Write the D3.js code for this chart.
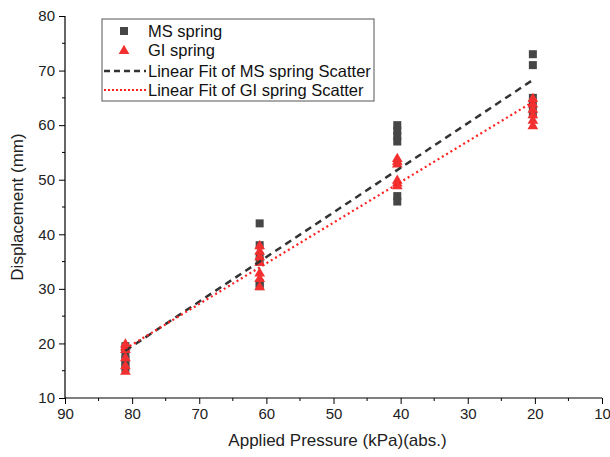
<!DOCTYPE html>
<html><head><meta charset="utf-8">
<script src="https://cdn.jsdelivr.net/npm/d3@7"></script>
<style>body{margin:0;background:#fff}svg{display:block;font-family:"Liberation Sans",Arial,sans-serif}</style>
</head><body><svg id="c" width="610" height="457"></svg>
<script>
// Data
const pressures = [81, 61, 40.5, 20.3];
const msValues = [
  [19.5, 19, 18, 17, 16, 15.5],
  [42, 38, 36, 35, 31, 30.5],
  [60, 59, 58, 57, 47, 46],
  [73, 71, 65, 64, 63, 62]
];
const giValues = [
  [20, 19.5, 19, 17.5, 16, 15],
  [38, 37, 36, 35, 33, 32, 30.5],
  [54, 53.5, 53, 50, 49.5, 49],
  [65, 64, 63, 62, 61, 60]
];
const xTicks = [90, 80, 70, 60, 50, 40, 30, 20, 10];
const yTicks = [10, 20, 30, 40, 50, 60, 70, 80];
const legendLabels = ["MS spring", "GI spring", "Linear Fit of MS spring Scatter", "Linear Fit of GI spring Scatter"];

const msColor = "#464646", giColor = "#f23030", fitMs = "#333333", fitGi = "#ff2020";
const svg = d3.select("#c");
const L = 65, R = 602, T = 16, B = 398;
const x = d3.scaleLinear().domain([90, 10]).range([L, R]);
const y = d3.scaleLinear().domain([10, 80]).range([B, T]);

function flat(vals){ const out=[]; vals.forEach((arr,i)=>arr.forEach(v=>out.push([pressures[i], v]))); return out; }
const ms = flat(msValues), gi = flat(giValues);
function fit(pts){
  const mx=d3.mean(pts,d=>d[0]), my=d3.mean(pts,d=>d[1]);
  let sxy=0,sxx=0; pts.forEach(([a,b])=>{sxy+=(a-mx)*(b-my);sxx+=(a-mx)*(a-mx);});
  const s=sxy/sxx; return xv=>my+s*(xv-mx);
}
const fMs = fit(ms), fGi = fit(gi);
const xr = d3.extent(pressures);

// axes
const xAxis = d3.axisBottom(x).tickValues(xTicks).tickSize(6).tickPadding(4).tickFormat(d3.format("d"));
const gx = svg.append("g").attr("transform",`translate(0,${B})`).call(xAxis);
gx.selectAll(".tick line").attr("stroke","#000");
gx.select(".domain").attr("d",`M${L},0H${R}`).attr("stroke","#000").attr("stroke-width",1.2);
gx.selectAll("text").attr("font-size",15).attr("fill","#222");
svg.append("g").attr("transform",`translate(0,${B})`).selectAll("line").data(d3.range(85,10,-10)).join("line")
  .attr("x1",d=>x(d)).attr("x2",d=>x(d)).attr("y1",0).attr("y2",3).attr("stroke","#000");

const yAxis = d3.axisLeft(y).tickValues(yTicks).tickSize(6).tickPadding(4);
const gy = svg.append("g").attr("transform",`translate(${L},0)`).call(yAxis);
gy.select(".domain").attr("d",`M0,${B}V${T}`).attr("stroke","#000").attr("stroke-width",1.2);
gy.selectAll("text").attr("font-size",15).attr("fill","#222");
svg.append("g").attr("transform",`translate(${L},0)`).selectAll("line").data(d3.range(15,80,10)).join("line")
  .attr("x1",0).attr("x2",-3).attr("y1",d=>y(d)).attr("y2",d=>y(d)).attr("stroke","#000");

// labels
svg.append("text").attr("x",(L+R)/2+4).attr("y",446).attr("text-anchor","middle").attr("font-size",17).attr("fill","#222").text("Applied Pressure (kPa)(abs.)");
svg.append("text").attr("transform",`translate(23,${(T+B)/2}) rotate(-90)`).attr("text-anchor","middle").attr("font-size",17).attr("fill","#222").text("Displacement (mm)");

// points
svg.append("g").selectAll("rect").data(ms).join("rect")
  .attr("x",d=>x(d[0])-4).attr("y",d=>y(d[1])-4).attr("width",8).attr("height",8).attr("fill",msColor);
const tri = d3.symbol().type(d3.symbolTriangle).size(50);
svg.append("g").selectAll("path").data(gi).join("path")
  .attr("d",tri).attr("transform",d=>`translate(${x(d[0])},${y(d[1])+1})`).attr("fill",giColor);

// fits
svg.append("line").attr("x1",x(xr[1])).attr("x2",x(xr[0])).attr("y1",y(fMs(xr[1]))).attr("y2",y(fMs(xr[0])))
  .attr("stroke",fitMs).attr("stroke-width",2.5).attr("stroke-dasharray","7,5");
svg.append("line").attr("x1",x(xr[1])).attr("x2",x(xr[0])).attr("y1",y(fGi(xr[1]))).attr("y2",y(fGi(xr[0])))
  .attr("stroke",fitGi).attr("stroke-width",2.2).attr("stroke-dasharray","2,3");

// legend
const lg = svg.append("g");
lg.append("rect").attr("x",102).attr("y",19).attr("width",272).attr("height",82).attr("fill","#fff").attr("stroke","#555").attr("stroke-width",1);
const rows=[31,50,71,90];
lg.append("rect").attr("x",120).attr("y",rows[0]-4).attr("width",8).attr("height",8).attr("fill",msColor);
lg.append("path").attr("d",tri).attr("transform",`translate(124,${rows[1]+1})`).attr("fill",giColor);
lg.append("line").attr("x1",104).attr("x2",146).attr("y1",rows[2]).attr("y2",rows[2]).attr("stroke",fitMs).attr("stroke-width",2.5).attr("stroke-dasharray","6,4");
lg.append("line").attr("x1",104).attr("x2",146).attr("y1",rows[3]).attr("y2",rows[3]).attr("stroke",fitGi).attr("stroke-width",2).attr("stroke-dasharray","2,2");
lg.selectAll("text.l").data(legendLabels).join("text").attr("class","l").attr("x",148).attr("y",(d,i)=>rows[i]+6)
  .attr("font-size",16.5).attr("fill","#111").text(d=>d);
</script></body></html>
